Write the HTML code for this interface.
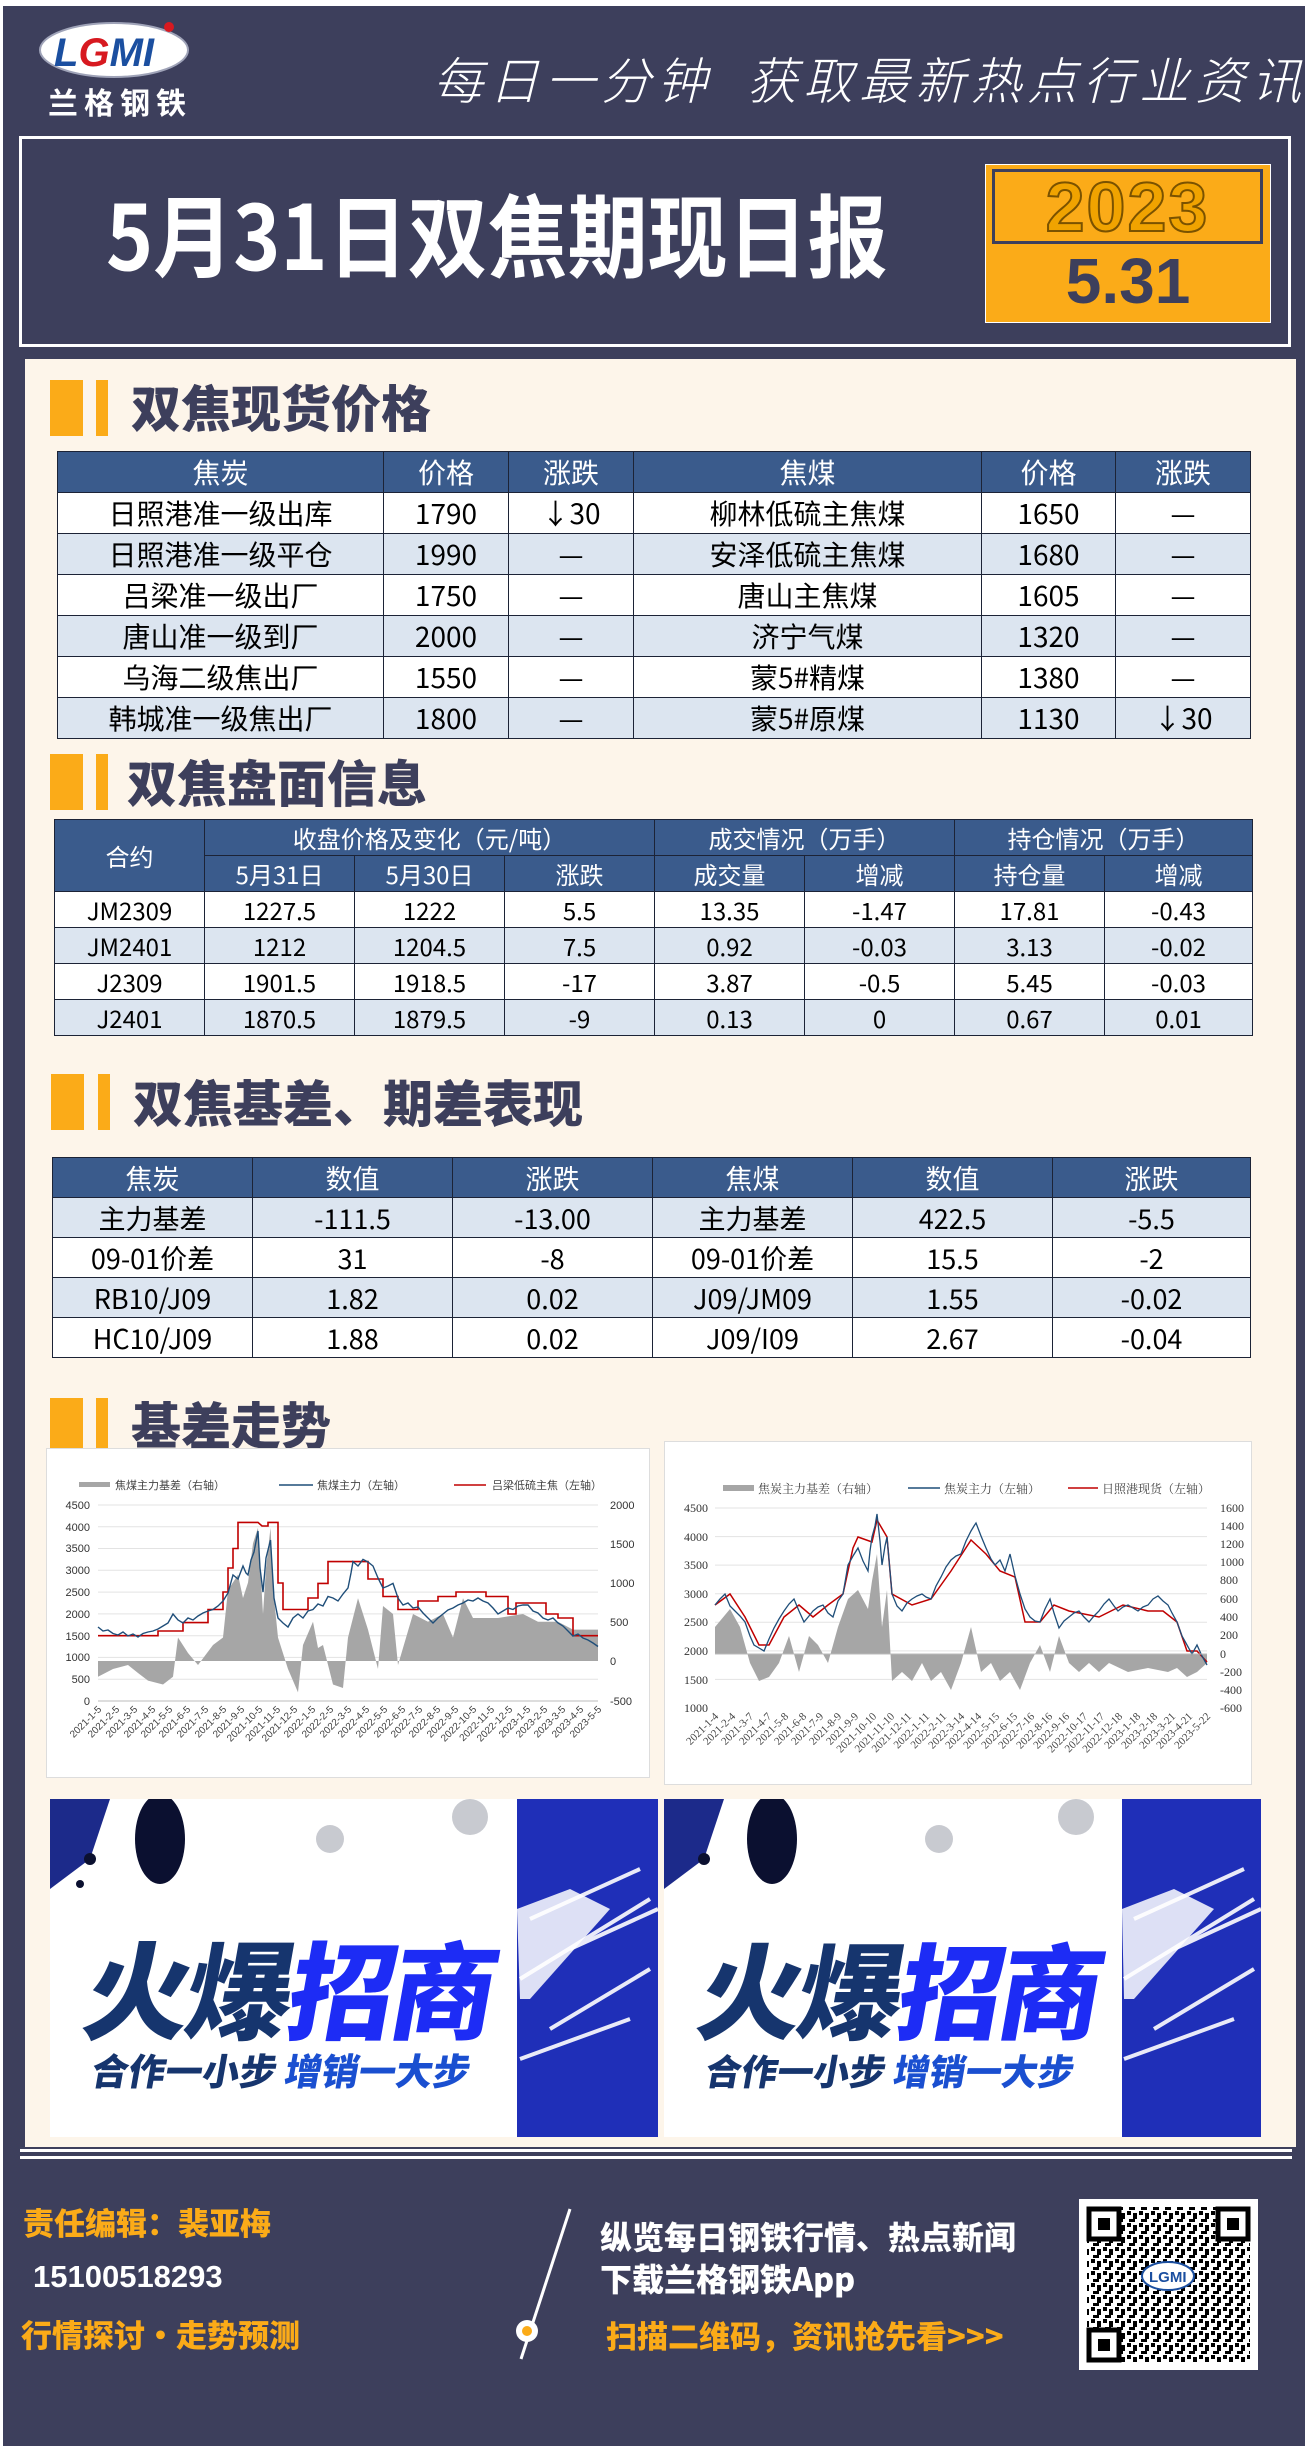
<!DOCTYPE html>
<html><head><meta charset="utf-8">
<style>
*{margin:0;padding:0;box-sizing:border-box}
body{width:1305px;height:2446px;position:relative;background:#3d3f5c;font-family:"Liberation Sans","Noto Sans CJK SC",sans-serif;overflow:hidden}
.abs{position:absolute}
.cjk{font-family:"Noto Sans CJK SC",sans-serif}
.h{position:absolute;font-family:"Noto Sans CJK SC",sans-serif;font-weight:900;color:#3d3f5c;font-size:50px;line-height:1;letter-spacing:0px}
.bar1{position:absolute;background:#fbab18;width:33px;height:56px}
.bar2{position:absolute;background:#fbab18;width:12px;height:56px}
table{position:absolute;border-collapse:collapse;font-family:"Noto Sans CJK SC",sans-serif;table-layout:fixed}
td,th{text-align:center;vertical-align:middle;padding:0;font-weight:400;border:1.5px solid #1c2336;white-space:nowrap;overflow:hidden}
th{background:#3a5b8c;color:#fff}
.t1 td,.t1 th{font-size:28px;height:41px}
.t1 th{height:40px}
.t2 td,.t2 th{font-size:24px;height:34.5px}
.t3 td,.t3 th{font-size:27px;height:37px}
tr.l td{background:#dce5f0}
tr.w td{background:#fff}
</style></head><body>
<div class="abs" style="left:0;top:0;width:1305px;height:6px;background:#fff"></div>
<div class="abs" style="left:0;top:0;width:3px;height:2446px;background:#fff"></div>

<!-- logo -->
<svg class="abs" style="left:36px;top:14px" width="160" height="110">
<ellipse cx="78" cy="36" rx="74" ry="27" fill="#fff" stroke="#9fa3b8" stroke-width="2"/>
<text x="18" y="52" font-family="Liberation Sans" font-weight="700" font-size="40" fill="#1b4fa0" font-style="italic">L<tspan fill="#d71920">G</tspan>MI</text>
<circle cx="133" cy="13" r="5" fill="#d71920"/>
<text x="12" y="100" font-family="Noto Sans CJK SC" font-weight="700" font-size="30" fill="#fff" letter-spacing="6">兰格钢铁</text>
</svg>
<div class="abs cjk" style="left:433px;top:42px;font-size:50px;color:#fff;font-weight:300;letter-spacing:6px;font-style:italic;white-space:nowrap">每日一分钟&nbsp; 获取最新热点行业资讯</div>

<!-- title box -->
<div class="abs" style="left:19px;top:136px;width:1272px;height:211px;border:3px solid #fff"></div>
<div class="abs cjk" style="left:106px;top:178px;font-size:80px;font-weight:700;color:#fff;white-space:nowrap;line-height:1.2;transform:scaleY(1.12);transform-origin:left top">5月31日双焦期现日报</div>
<div class="abs" style="left:985px;top:164px;width:286px;height:159px;background:#fbab18;border:1px solid #fff"></div>
<div class="abs" style="left:992px;top:169px;width:271px;height:75px;border:3px solid #3d3f5c"></div>
<div class="abs" style="left:992px;top:170px;width:271px;text-align:center;font-family:'Liberation Sans';font-weight:900;font-size:70px;color:#f0a300;line-height:74px;letter-spacing:2px;-webkit-text-stroke:2px #7a5200">2023</div>
<div class="abs" style="left:985px;top:246px;width:286px;text-align:center;font-family:'Liberation Sans';font-weight:700;font-size:64px;color:#3d3f5c;line-height:70px">5.31</div>

<!-- cream panel -->
<div class="abs" style="left:25px;top:359px;width:1271px;height:1788px;background:#fdf5ea"></div>
<div class="abs" style="left:20px;top:2149px;width:1272px;height:3px;background:#fff"></div>
<div class="abs" style="left:20px;top:2156px;width:1272px;height:3px;background:#fff"></div>

<!-- section 1 -->
<div class="bar1" style="left:50px;top:380px"></div><div class="bar2" style="left:96px;top:380px"></div>
<div class="h" style="left:131px;top:381px">双焦现货价格</div>
<table class="t1" style="left:57px;top:451px;width:1193px">
<colgroup><col style="width:326px"><col style="width:125px"><col style="width:125px"><col style="width:348px"><col style="width:134px"><col style="width:135px"></colgroup>
<tr><th>焦炭</th><th>价格</th><th>涨跌</th><th>焦煤</th><th>价格</th><th>涨跌</th></tr>
<tr class="w"><td>日照港准一级出库</td><td>1790</td><td>↓30</td><td>柳林低硫主焦煤</td><td>1650</td><td>—</td></tr>
<tr class="l"><td>日照港准一级平仓</td><td>1990</td><td>—</td><td>安泽低硫主焦煤</td><td>1680</td><td>—</td></tr>
<tr class="w"><td>吕梁准一级出厂</td><td>1750</td><td>—</td><td>唐山主焦煤</td><td>1605</td><td>—</td></tr>
<tr class="l"><td>唐山准一级到厂</td><td>2000</td><td>—</td><td>济宁气煤</td><td>1320</td><td>—</td></tr>
<tr class="w"><td>乌海二级焦出厂</td><td>1550</td><td>—</td><td>蒙5#精煤</td><td>1380</td><td>—</td></tr>
<tr class="l"><td>韩城准一级焦出厂</td><td>1800</td><td>—</td><td>蒙5#原煤</td><td>1130</td><td>↓30</td></tr>
</table>

<!-- section 2 -->
<div class="bar1" style="left:50px;top:754px"></div><div class="bar2" style="left:96px;top:754px"></div>
<div class="h" style="left:127px;top:756px">双焦盘面信息</div>
<table class="t2" style="left:54px;top:819px;width:1198px">
<colgroup><col style="width:150px"><col style="width:150px"><col style="width:150px"><col style="width:150px"><col style="width:150px"><col style="width:150px"><col style="width:150px"><col style="width:148px"></colgroup>
<tr><th rowspan="2">合约</th><th colspan="3">收盘价格及变化（元/吨）</th><th colspan="2">成交情况（万手）</th><th colspan="2">持仓情况（万手）</th></tr>
<tr><th>5月31日</th><th>5月30日</th><th>涨跌</th><th>成交量</th><th>增减</th><th>持仓量</th><th>增减</th></tr>
<tr class="w"><td>JM2309</td><td>1227.5</td><td>1222</td><td>5.5</td><td>13.35</td><td>-1.47</td><td>17.81</td><td>-0.43</td></tr>
<tr class="l"><td>JM2401</td><td>1212</td><td>1204.5</td><td>7.5</td><td>0.92</td><td>-0.03</td><td>3.13</td><td>-0.02</td></tr>
<tr class="w"><td>J2309</td><td>1901.5</td><td>1918.5</td><td>-17</td><td>3.87</td><td>-0.5</td><td>5.45</td><td>-0.03</td></tr>
<tr class="l"><td>J2401</td><td>1870.5</td><td>1879.5</td><td>-9</td><td>0.13</td><td>0</td><td>0.67</td><td>0.01</td></tr>
</table>

<!-- section 3 -->
<div class="bar1" style="left:51px;top:1074px"></div><div class="bar2" style="left:98px;top:1074px"></div>
<div class="h" style="left:133px;top:1076px">双焦基差、期差表现</div>
<table class="t3" style="left:52px;top:1157px;width:1198px">
<colgroup><col style="width:200px"><col style="width:200px"><col style="width:200px"><col style="width:200px"><col style="width:200px"><col style="width:198px"></colgroup>
<tr><th>焦炭</th><th>数值</th><th>涨跌</th><th>焦煤</th><th>数值</th><th>涨跌</th></tr>
<tr class="l"><td>主力基差</td><td>-111.5</td><td>-13.00</td><td>主力基差</td><td>422.5</td><td>-5.5</td></tr>
<tr class="w"><td>09-01价差</td><td>31</td><td>-8</td><td>09-01价差</td><td>15.5</td><td>-2</td></tr>
<tr class="l"><td>RB10/J09</td><td>1.82</td><td>0.02</td><td>J09/JM09</td><td>1.55</td><td>-0.02</td></tr>
<tr class="w"><td>HC10/J09</td><td>1.88</td><td>0.02</td><td>J09/I09</td><td>2.67</td><td>-0.04</td></tr>
</table>

<!-- section 4 -->
<div class="bar1" style="left:50px;top:1398px;height:50px"></div><div class="bar2" style="left:96px;top:1398px;height:50px"></div>
<div class="h" style="left:131px;top:1398px">基差走势</div>

<!-- chart 1 -->
<svg class="abs" style="left:46px;top:1448px" width="604" height="330" font-family="Liberation Sans,Noto Sans CJK SC" font-size="11">
<rect x="0.5" y="0.5" width="603" height="329" fill="#fff" stroke="#ddd"/>
<g stroke="#e3e3e3" stroke-width="1">
<line x1="52" x2="552" y1="253" y2="253"/><line x1="52" x2="552" y1="231.2" y2="231.2"/><line x1="52" x2="552" y1="209.4" y2="209.4"/><line x1="52" x2="552" y1="187.7" y2="187.7"/><line x1="52" x2="552" y1="165.9" y2="165.9"/><line x1="52" x2="552" y1="144.1" y2="144.1"/><line x1="52" x2="552" y1="122.3" y2="122.3"/><line x1="52" x2="552" y1="100.5" y2="100.5"/><line x1="52" x2="552" y1="78.8" y2="78.8"/><line x1="52" x2="552" y1="57" y2="57"/></g>
<polygon fill="#a6a6a6" points="52,213 52,228.7 67,221 82,217 92,225 102,232.6 117,236.5 127,228.7 132,189.5 142,205 152,217 167,197 177,189.5 182,142 192,126.8 197,150 202,134.6 207,95.4 212,79.7 217,166 220,120 224.5,79.7 228,150 232,189.5 242,221 252,244.4 257,197 267,173.8 272,200 277,197 287,236.5 297,240 302,189.5 312,150.3 322,181.6 332,221 337,158 347,166 352,217 367,166 382,173.8 397,166 407,189.5 417,150.3 427,170 452,170 477,166 492,173.8 512,173.8 527,181.6 552,181.6 552,213"/>
<polyline fill="none" stroke="#c00000" stroke-width="1.6" points="52,187.7 112,187.7 112,183 137,183 137,174.6 162,174.6 162,161.5 177,161.5 177,144 182,144 182,120 187,120 187,100.5 192,100.5 192,74.4 212,74.4 216,78 222,78 222,74.4 232,74.4 232,135 237,135 237,161.5 262,161.5 262,150 272,150 272,135.4 282,135.4 282,113.6 322,113.6 322,131 337,131 337,148.5 352,148.5 352,161.5 372,161.5 372,153 392,153 392,148.5 410,148.5 410,144 440,144 440,148.5 462,148.5 462,166 470,166 470,155 500,155 500,166 512,166 512,170 527,170 527,187.7 552,187.7"/>
<polyline fill="none" stroke="#1f4e79" stroke-width="1.4" points="52,179 57,183 62,182 67,185.5 72,187 77,184 82,188 87,186 92,189 97,185.5 102,184 107,183 112,181 117,178 122,175 127,166 132,172 137,175 142,170 147,172 152,168 157,165 162,163 167,161.5 172,158 177,153 182,145 187,127 192,131 197,118 200,125 202,127 205,112 208,104 212,83 214,120 217,144 220,110 224.5,92 228,150 232,170 237,175 242,179 247,170 252,166 257,170 262,163 267,161.5 272,156 277,158 282,148.5 287,150 292,153 297,146 302,140 305,125 307,113.6 312,118 317,111.4 322,114 327,118 332,130 337,140 342,138 347,135.4 352,150 357,157 362,155 367,160 372,159 377,165 382,170 387,175 392,170 397,166 402,162 407,160 412,157 417,155 422,152 427,153 432,150 437,153 442,155 447,160 452,166 457,163 462,160 467,161.5 472,158 477,157 482,157 487,163 492,165 497,170 502,172 507,170 512,175 517,178 522,183 527,188 532,186 537,190 542,192 547,195 552,198.5"/>
<g fill="#333" text-anchor="end"><text x="44" y="61">4500</text><text x="44" y="83">4000</text><text x="44" y="104">3500</text><text x="44" y="126">3000</text><text x="44" y="148">2500</text><text x="44" y="170">2000</text><text x="44" y="192">1500</text><text x="44" y="213">1000</text><text x="44" y="235">500</text><text x="44" y="257">0</text></g>
<g fill="#333" text-anchor="start"><text x="564" y="61">2000</text><text x="564" y="100">1500</text><text x="564" y="139">1000</text><text x="564" y="178">500</text><text x="564" y="217">0</text><text x="564" y="257">-500</text></g>
<line x1="52" x2="552" y1="253" y2="253" stroke="#bbb"/>
<g fill="#444" font-size="10" text-anchor="end">
<text transform="translate(56,262) rotate(-45)">2021-1-5</text><text transform="translate(74,262) rotate(-45)">2021-2-5</text><text transform="translate(92,262) rotate(-45)">2021-3-5</text><text transform="translate(110,262) rotate(-45)">2021-4-5</text><text transform="translate(127,262) rotate(-45)">2021-5-5</text><text transform="translate(145,262) rotate(-45)">2021-6-5</text><text transform="translate(163,262) rotate(-45)">2021-7-5</text><text transform="translate(181,262) rotate(-45)">2021-8-5</text><text transform="translate(199,262) rotate(-45)">2021-9-5</text><text transform="translate(217,262) rotate(-45)">2021-10-5</text><text transform="translate(235,262) rotate(-45)">2021-11-5</text><text transform="translate(252,262) rotate(-45)">2021-12-5</text><text transform="translate(270,262) rotate(-45)">2022-1-5</text><text transform="translate(288,262) rotate(-45)">2022-2-5</text><text transform="translate(306,262) rotate(-45)">2022-3-5</text><text transform="translate(324,262) rotate(-45)">2022-4-5</text><text transform="translate(342,262) rotate(-45)">2022-5-5</text><text transform="translate(360,262) rotate(-45)">2022-6-5</text><text transform="translate(377,262) rotate(-45)">2022-7-5</text><text transform="translate(395,262) rotate(-45)">2022-8-5</text><text transform="translate(413,262) rotate(-45)">2022-9-5</text><text transform="translate(431,262) rotate(-45)">2022-10-5</text><text transform="translate(449,262) rotate(-45)">2022-11-5</text><text transform="translate(467,262) rotate(-45)">2022-12-5</text><text transform="translate(485,262) rotate(-45)">2023-1-5</text><text transform="translate(502,262) rotate(-45)">2023-2-5</text><text transform="translate(520,262) rotate(-45)">2023-3-5</text><text transform="translate(538,262) rotate(-45)">2023-4-5</text><text transform="translate(556,262) rotate(-45)">2023-5-5</text></g>
<rect x="33" y="34" width="31" height="5" fill="#a6a6a6"/><text x="69" y="41" fill="#444">焦煤主力基差（右轴）</text>
<line x1="233" x2="267" y1="37" y2="37" stroke="#1f4e79" stroke-width="1.5"/><text x="271" y="41" fill="#444">焦煤主力（左轴）</text>
<line x1="408" x2="440" y1="37" y2="37" stroke="#c00000" stroke-width="1.5"/><text x="446" y="41" fill="#444">吕梁低硫主焦（左轴）</text>
</svg>

<!-- chart 2 -->
<svg class="abs" style="left:664px;top:1441px" width="588" height="344" font-family="Liberation Serif,Noto Serif CJK SC" font-size="12">
<rect x="0.5" y="0.5" width="587" height="343" fill="#fff" stroke="#ddd"/>
<g stroke="#e3e3e3"><line x1="51" x2="543" y1="67" y2="67"/><line x1="51" x2="543" y1="95.6" y2="95.6"/><line x1="51" x2="543" y1="124.1" y2="124.1"/><line x1="51" x2="543" y1="152.7" y2="152.7"/><line x1="51" x2="543" y1="181.3" y2="181.3"/><line x1="51" x2="543" y1="209.9" y2="209.9"/><line x1="51" x2="543" y1="238.4" y2="238.4"/></g>
<polygon fill="#a6a6a6" points="51,213 51,186 66,168 76,186 86,222 95,240 105,236 115,222 125,195 135,231 145,195 154,204 164,222 174,186 184,158 194,149 204,168 208,140 213,113 218,186 223,149 228,240 238,231 248,240 258,222 267,240 277,231 287,249 297,222 307,186 317,231 327,222 336,240 346,231 356,249 366,222 376,204 386,231 395,195 405,222 415,231 425,222 435,231 445,222 464,231 484,227 504,231 513,227 523,236 533,231 543,222 543,213"/>
<polyline fill="none" stroke="#c00000" stroke-width="1.5" points="51,164 66,153 81,176 95,204 105,204 120,176 135,164 149,176 164,164 179,153 189,107 194,96 208,101 213,79 223,96 228,153 248,164 267,158 287,130 307,99 322,113 336,130 351,136 361,181 376,181 390,164 405,170 435,176 459,164 484,170 499,170 513,181 523,210 533,210 543,221"/>
<polyline fill="none" stroke="#1f4e79" stroke-width="1.3" points="51,164 56,158 61,153 66,165 71,170 76,175 81,181 86,195 90,204 95,207 100,210 105,198 110,187 115,178 120,170 125,163 130,158 135,170 140,181 145,175 149,170 154,166 159,164 164,172 169,176 174,160 179,153 184,124 189,115 194,107 199,120 204,130 206,110 208,96 211,85 213,73 216,100 218,124 221,105 223,96 226,130 228,153 233,165 238,170 243,162 248,158 253,155 258,153 262,156 267,158 272,145 277,136 282,126 287,119 292,115 297,113 302,100 307,90 310,85 312,82 317,95 322,107 327,118 331,124 336,119 341,130 344,120 346,113 351,135 356,153 361,168 366,176 371,180 376,181 381,168 386,158 390,172 395,187 400,180 405,176 410,172 415,170 420,176 425,181 430,175 435,170 440,163 445,158 450,165 454,170 459,166 464,164 469,167 474,170 479,166 484,164 489,158 494,155 499,160 504,164 508,172 513,181 518,195 523,204 528,213 533,204 538,215 543,224"/>
<g fill="#333" text-anchor="end"><text x="44" y="71">4500</text><text x="44" y="100">4000</text><text x="44" y="128">3500</text><text x="44" y="157">3000</text><text x="44" y="185">2500</text><text x="44" y="214">2000</text><text x="44" y="243">1500</text><text x="44" y="271">1000</text></g>
<g fill="#333" text-anchor="start"><text x="556" y="71">1600</text><text x="556" y="89">1400</text><text x="556" y="107">1200</text><text x="556" y="125">1000</text><text x="556" y="143">800</text><text x="556" y="162">600</text><text x="556" y="180">400</text><text x="556" y="198">200</text><text x="556" y="217">0</text><text x="556" y="235">-200</text><text x="556" y="253">-400</text><text x="556" y="271">-600</text></g>
<line x1="51" x2="543" y1="213" y2="213" stroke="#bbb"/>
<g fill="#444" font-size="11" text-anchor="end">
<text transform="translate(55,276) rotate(-45)">2021-1-4</text><text transform="translate(72,276) rotate(-45)">2021-2-4</text><text transform="translate(90,276) rotate(-45)">2021-3-7</text><text transform="translate(108,276) rotate(-45)">2021-4-7</text><text transform="translate(125,276) rotate(-45)">2021-5-8</text><text transform="translate(143,276) rotate(-45)">2021-6-8</text><text transform="translate(160,276) rotate(-45)">2021-7-9</text><text transform="translate(178,276) rotate(-45)">2021-8-9</text><text transform="translate(195,276) rotate(-45)">2021-9-9</text><text transform="translate(213,276) rotate(-45)">2021-10-10</text><text transform="translate(231,276) rotate(-45)">2021-11-10</text><text transform="translate(248,276) rotate(-45)">2021-12-11</text><text transform="translate(266,276) rotate(-45)">2022-1-11</text><text transform="translate(283,276) rotate(-45)">2022-2-11</text><text transform="translate(301,276) rotate(-45)">2022-3-14</text><text transform="translate(318,276) rotate(-45)">2022-4-14</text><text transform="translate(336,276) rotate(-45)">2022-5-15</text><text transform="translate(354,276) rotate(-45)">2022-6-15</text><text transform="translate(371,276) rotate(-45)">2022-7-16</text><text transform="translate(389,276) rotate(-45)">2022-8-16</text><text transform="translate(406,276) rotate(-45)">2022-9-16</text><text transform="translate(424,276) rotate(-45)">2022-10-17</text><text transform="translate(441,276) rotate(-45)">2022-11-17</text><text transform="translate(459,276) rotate(-45)">2022-12-18</text><text transform="translate(477,276) rotate(-45)">2023-1-18</text><text transform="translate(494,276) rotate(-45)">2023-2-18</text><text transform="translate(512,276) rotate(-45)">2023-3-21</text><text transform="translate(529,276) rotate(-45)">2023-4-21</text><text transform="translate(547,276) rotate(-45)">2023-5-22</text></g>
<rect x="59" y="44" width="31" height="6" fill="#a6a6a6"/><text x="94" y="52" fill="#444">焦炭主力基差（右轴）</text>
<line x1="244" x2="276" y1="47" y2="47" stroke="#1f4e79" stroke-width="1.5"/><text x="280" y="52" fill="#444">焦炭主力（左轴）</text>
<line x1="404" x2="434" y1="47" y2="47" stroke="#c00000" stroke-width="1.5"/><text x="438" y="52" fill="#444">日照港现货（左轴）</text>
</svg>

<!-- banners -->
<svg class="abs" style="left:50px;top:1799px" width="608" height="338">
<rect width="608" height="338" fill="#fff"/>
<polygon points="467,0 608,0 608,338 467,338" fill="#1f2fb8"/>
<g stroke="#fff" stroke-width="4" opacity="0.9"><line x1="480" y1="120" x2="590" y2="70"/><line x1="470" y1="180" x2="600" y2="100"/><line x1="500" y1="230" x2="600" y2="170"/><line x1="470" y1="260" x2="580" y2="220"/><line x1="520" y1="150" x2="608" y2="110"/></g>
<polygon points="467,110 520,90 560,110 480,200 470,200" fill="#fff" opacity="0.85"/>
<path d="M0,0 H60 L40,60 L0,90Z" fill="#1c2a8a"/>
<ellipse cx="110" cy="40" rx="25" ry="45" fill="#0b1030"/>
<circle cx="40" cy="60" r="6" fill="#0b1030"/><circle cx="30" cy="85" r="4" fill="#0b1030"/>
<circle cx="280" cy="40" r="14" fill="#c8cad0"/><circle cx="420" cy="18" r="18" fill="#c8cad0"/>
<text x="30" y="232" font-family="Noto Sans CJK SC" font-weight="900" font-size="106" fill="#16356e" transform="skewX(-10) translate(40,0)" letter-spacing="-4">火爆<tspan fill="#1d2cf5">招商</tspan></text>
<text x="40" y="286" font-family="Noto Sans CJK SC" font-weight="900" font-size="37" fill="#16356e" transform="skewX(-10) translate(50,0)">合作一小步 <tspan fill="#1a4fd0">增销一大步</tspan></text>
</svg>
<svg class="abs" style="left:664px;top:1799px" width="597" height="338">
<rect width="597" height="338" fill="#fff"/>
<polygon points="458,0 597,0 597,338 458,338" fill="#1f2fb8"/>
<g stroke="#fff" stroke-width="4" opacity="0.9"><line x1="470" y1="120" x2="580" y2="70"/><line x1="460" y1="180" x2="590" y2="100"/><line x1="490" y1="230" x2="590" y2="170"/><line x1="460" y1="260" x2="570" y2="220"/><line x1="510" y1="150" x2="597" y2="110"/></g>
<polygon points="458,110 510,90 550,110 470,200 460,200" fill="#fff" opacity="0.85"/>
<path d="M0,0 H60 L40,60 L0,90Z" fill="#1c2a8a"/>
<ellipse cx="108" cy="40" rx="25" ry="45" fill="#0b1030"/>
<circle cx="40" cy="60" r="6" fill="#0b1030"/>
<circle cx="275" cy="40" r="14" fill="#c8cad0"/><circle cx="412" cy="18" r="18" fill="#c8cad0"/>
<text x="30" y="232" font-family="Noto Sans CJK SC" font-weight="900" font-size="104" fill="#16356e" transform="skewX(-10) translate(40,0)" letter-spacing="-4">火爆<tspan fill="#1d2cf5">招商</tspan></text>
<text x="40" y="286" font-family="Noto Sans CJK SC" font-weight="900" font-size="36" fill="#16356e" transform="skewX(-10) translate(50,0)">合作一小步 <tspan fill="#1a4fd0">增销一大步</tspan></text>
</svg>

<!-- footer -->
<div class="abs cjk" style="left:23px;top:2200px;font-size:31px;font-weight:900;color:#fbab18;white-space:nowrap;line-height:44px">责任编辑：裴亚梅</div>
<div class="abs" style="left:33px;top:2257px;font-size:31px;font-weight:700;color:#fff;font-family:'Liberation Sans';line-height:40px">15100518293</div>
<div class="abs cjk" style="left:21px;top:2312px;font-size:31px;font-weight:900;color:#fbab18;white-space:nowrap;line-height:44px">行情探讨·走势预测</div>
<svg class="abs" style="left:510px;top:2205px" width="70" height="160"><line x1="60" y1="4" x2="11" y2="154" stroke="#fff" stroke-width="3"/><circle cx="17" cy="126" r="11" fill="#fff"/><circle cx="17" cy="126" r="5" fill="#fbab18"/></svg>
<div class="abs cjk" style="left:600px;top:2214px;font-size:32px;font-weight:900;color:#fff;white-space:nowrap;line-height:44px">纵览每日钢铁行情、热点新闻</div>
<div class="abs cjk" style="left:600px;top:2256px;font-size:32px;font-weight:900;color:#fff;white-space:nowrap;line-height:44px">下载兰格钢铁App</div>
<div class="abs cjk" style="left:606px;top:2313px;font-size:31px;font-weight:900;color:#fbab18;white-space:nowrap;line-height:44px">扫描二维码，资讯抢先看&gt;&gt;&gt;</div>
<svg class="abs" style="left:1079px;top:2199px" width="179" height="171">
<defs><pattern id="qp" width="12" height="12" patternUnits="userSpaceOnUse"><rect width="4" height="4" fill="#000"/><rect x="6" y="2" width="4" height="6" fill="#000"/><rect x="2" y="8" width="6" height="3" fill="#000"/></pattern></defs>
<rect width="179" height="171" fill="#fff"/>
<rect x="8" y="8" width="163" height="155" fill="url(#qp)"/>
<g fill="#fff" stroke="#000" stroke-width="5"><rect x="10" y="10" width="30" height="30"/><rect x="139" y="10" width="30" height="30"/><rect x="10" y="131" width="30" height="30"/></g>
<g fill="#000"><rect x="19" y="19" width="12" height="12"/><rect x="148" y="19" width="12" height="12"/><rect x="19" y="140" width="12" height="12"/></g>
<ellipse cx="89" cy="77" rx="26" ry="14" fill="#fff" stroke="#1b4fa0" stroke-width="2"/>
<text x="70" y="83" font-family="Liberation Sans" font-weight="700" font-size="15" fill="#1b4fa0">LGMI</text>
</svg>
</body></html>
